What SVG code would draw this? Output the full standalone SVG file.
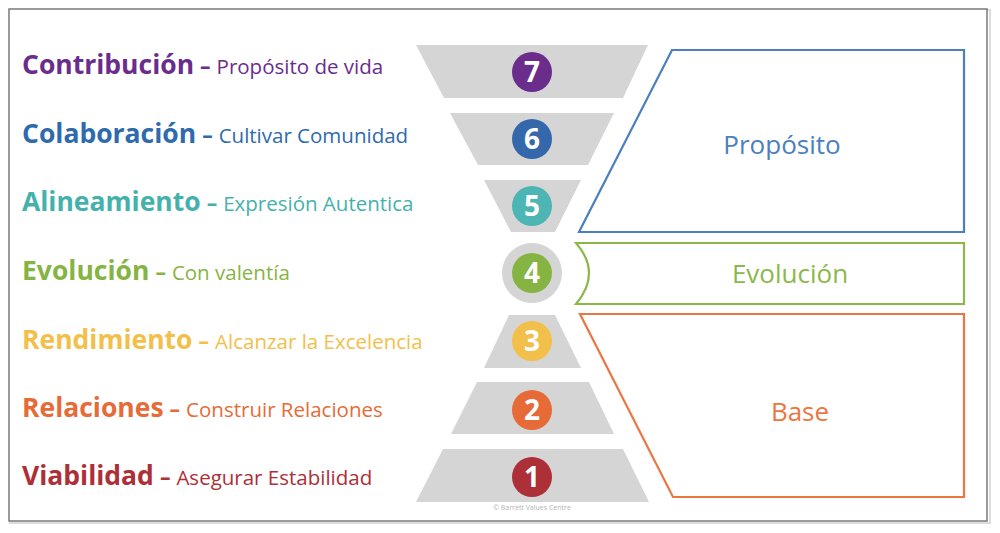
<svg xmlns="http://www.w3.org/2000/svg" width="1000" height="533" viewBox="0 0 1000 533">
<style>
.lbl{font-family:"Open Sans","Liberation Sans",sans-serif;}
.b{font-weight:700;font-size:26.5px;}
.s{font-weight:400;font-size:20.5px;}
.d{font-weight:700;font-size:21px;}
.tier{fill:#d6d5d6;}
.num{font-family:"Open Sans","Liberation Sans",sans-serif;font-weight:700;font-size:28px;fill:#ffffff;text-anchor:middle;}
.grp{fill:#ffffff;stroke-width:2.2;}
.gt{font-family:"Open Sans","Liberation Sans",sans-serif;font-size:26px;text-anchor:middle;}
</style>
<rect x="0" y="0" width="1000" height="533" fill="#ffffff"/>
<rect x="10" y="10" width="980" height="513" fill="none" stroke="#dcdcdc" stroke-width="2"/>
<rect x="9" y="9" width="978" height="512" fill="#ffffff" stroke="#7a7a7a" stroke-width="1.5"/>

<g id="labels" class="lbl">
<text x="22" y="74" fill="#6a2d8c"><tspan class="b">Contribución</tspan><tspan class="d" dx="6">–</tspan><tspan class="s" dx="6">Propósito de vida</tspan></text>
<text x="22" y="143" fill="#2f6aad"><tspan class="b">Colaboración</tspan><tspan class="d" dx="6">–</tspan><tspan class="s" dx="6">Cultivar Comunidad</tspan></text>
<text x="22" y="211" fill="#45b1ad"><tspan class="b">Alineamiento</tspan><tspan class="d" dx="6">–</tspan><tspan class="s" dx="6">Expresión Autentica</tspan></text>
<text x="22" y="280" fill="#86b442"><tspan class="b">Evolución</tspan><tspan class="d" dx="6">–</tspan><tspan class="s" dx="6">Con valentía</tspan></text>
<text x="22" y="349" fill="#f2c04a"><tspan class="b">Rendimiento</tspan><tspan class="d" dx="6">–</tspan><tspan class="s" dx="6">Alcanzar la Excelencia</tspan></text>
<text x="22" y="417" fill="#e66b37"><tspan class="b">Relaciones</tspan><tspan class="d" dx="6">–</tspan><tspan class="s" dx="6">Construir Relaciones</tspan></text>
<text x="22" y="485" fill="#ad2f37"><tspan class="b">Viabilidad</tspan><tspan class="d" dx="6">–</tspan><tspan class="s" dx="6">Asegurar Estabilidad</tspan></text>
</g>

<g id="level7">
<polygon class="tier" points="416,45 648,45 623,98 444,98"/>
<circle cx="532" cy="72" r="20" fill="#6a2d8c"/>
<text class="num" x="532" y="82">7</text>
</g>
<g id="level6">
<polygon class="tier" points="450,113 614,113 588,165 478,165"/>
<circle cx="532" cy="139" r="20" fill="#3468ab"/>
<text class="num" x="532" y="149">6</text>
</g>
<g id="level5">
<polygon class="tier" points="484,180 581,180 555,232 511,232"/>
<circle cx="532" cy="206" r="20" fill="#4db5b3"/>
<text class="num" x="532" y="216">5</text>
</g>
<g id="level4">
<circle cx="532" cy="273" r="30" fill="#d6d5d6"/>
<circle cx="532" cy="273" r="20" fill="#86b442"/>
<text class="num" x="532" y="283">4</text>
</g>
<g id="level3">
<polygon class="tier" points="509,315 555,315 581,368 484,368"/>
<circle cx="532" cy="341" r="20" fill="#f2c04a"/>
<text class="num" x="532" y="351">3</text>
</g>
<g id="level2">
<polygon class="tier" points="477,382 589,382 614,434 451,434"/>
<circle cx="532" cy="410" r="20" fill="#e66b37"/>
<text class="num" x="532" y="420">2</text>
</g>
<g id="level1">
<polygon class="tier" points="443,449 623,449 649,502 416,502"/>
<circle cx="532" cy="477" r="20" fill="#ad2f37"/>
<text class="num" x="532" y="487">1</text>
</g>
<text x="532" y="510" font-family="Open Sans, Liberation Sans, sans-serif" font-size="7" fill="#b5b5b5" text-anchor="middle">© Barrett Values Centre</text>

<g id="proposito">
<polygon class="grp" stroke="#4a7fc0" points="672,50 964,50 964,232 579,232"/>
<text class="gt" x="782" y="154" fill="#4a7fc0">Propósito</text>
</g>
<g id="evolucion">
<path class="grp" stroke="#8bb84a" d="M576,243 H964 V304 H576 Q602,273 576,243 Z"/>
<text class="gt" x="790" y="283" fill="#8bb84a">Evolución</text>
</g>
<g id="base">
<polygon class="grp" stroke="#ec7642" points="580,314 964,314 964,497 673,497"/>
<text class="gt" x="800" y="421" fill="#ec7642">Base</text>
</g>
<g id="connectors"/>
</svg>
